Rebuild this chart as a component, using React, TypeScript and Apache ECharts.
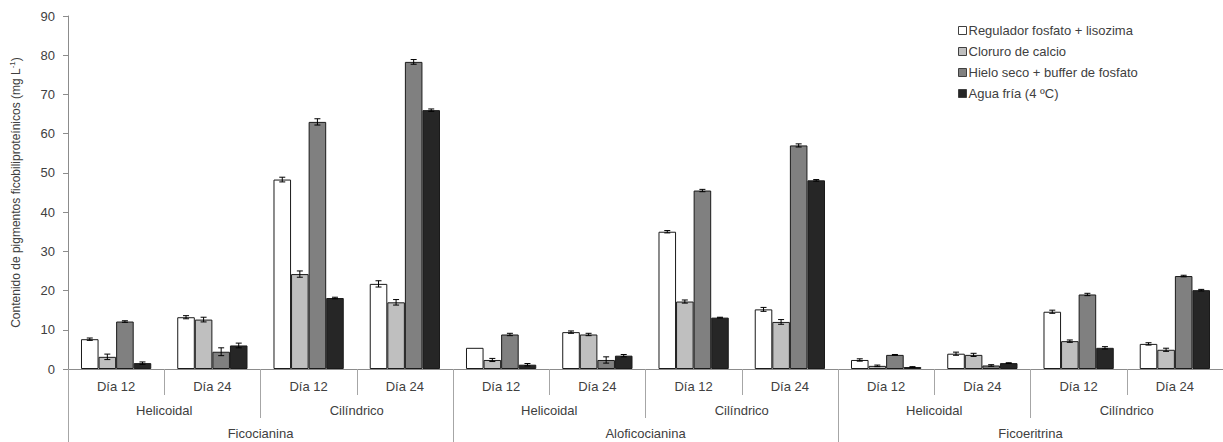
import React, { useEffect, useRef } from "react";
import * as echarts from "echarts";

const dayLabels = ["Día 12", "Día 24", "Día 12", "Día 24", "Día 12", "Día 24", "Día 12", "Día 24", "Día 12", "Día 24", "Día 12", "Día 24"];
const reactorLabels = ["Helicoidal", "Cilíndrico", "Helicoidal", "Cilíndrico", "Helicoidal", "Cilíndrico"];
const pigmentLabels = ["Ficocianina", "Aloficocianina", "Ficoeritrina"];
const seriesNames = ["Regulador fosfato + lisozima", "Cloruro de calcio", "Hielo seco + buffer de fosfato", "Agua fría (4 ºC)"];
const seriesColors = ["#ffffff", "#bfbfbf", "#808080", "#262626"];

const reguladorValues = [7.6, 13.2, 48.3, 21.7, 5.4, 9.4, 35.0, 15.2, 2.3, 3.9, 14.6, 6.4];
const cloruroValues = [3.1, 12.6, 24.2, 17.0, 2.3, 8.8, 17.2, 12.0, 0.8, 3.6, 7.1, 4.9];
const hieloValues = [12.1, 4.4, 63.0, 78.3, 8.8, 2.3, 45.5, 57.0, 3.6, 0.9, 19.0, 23.7];
const aguaValues = [1.5, 6.0, 18.1, 66.0, 1.1, 3.4, 13.1, 48.1, 0.5, 1.5, 5.4, 20.1];

const reguladorErr = [0.3, 0.4, 0.6, 0.8, 0, 0.3, 0.3, 0.5, 0.3, 0.4, 0.4, 0.3];
const cloruroErr = [0.7, 0.6, 0.8, 0.7, 0.4, 0.3, 0.4, 0.6, 0.2, 0.4, 0.3, 0.4];
const hieloErr = [0.2, 1.0, 0.8, 0.6, 0.3, 0.8, 0.3, 0.4, 0.1, 0.2, 0.3, 0.2];
const aguaErr = [0.3, 0.6, 0.2, 0.3, 0.3, 0.3, 0.1, 0.2, 0.1, 0.1, 0.3, 0.2];

const yTicks = { min: 0, max: 90, interval: 10 };

const allValues = [reguladorValues, cloruroValues, hieloValues, aguaValues];
const allErr = [reguladorErr, cloruroErr, hieloErr, aguaErr];

const CAT_GAP = 0.27;
const FONT = "'Liberation Sans', Arial, sans-serif";
const TEXT = "#404040";
const SEP = "#a6a6a6";

export default function App() {
  const ref = useRef<HTMLDivElement>(null);
  useEffect(() => {
    document.body.style.margin = "0";
    const chart = echarts.init(ref.current!, null, { renderer: "svg" });

    const errData: number[][] = [];
    allValues.forEach((vals, s) => {
      vals.forEach((v, c) => {
        errData.push([c, s, v, allErr[s][c]]);
      });
    });

    const option: any = {
      animation: false,
      textStyle: { fontFamily: FONT },
      grid: { left: 66.5, right: -14, top: 16, bottom: 73, containLabel: false },
      legend: {
        orient: "vertical",
        left: 953,
        top: 19,
        itemWidth: 8,
        itemHeight: 8,
        itemGap: 8,
        icon: "rect",
        data: seriesNames,
        itemStyle: { borderColor: "#404040", borderWidth: 1 },
        textStyle: { fontFamily: FONT, fontSize: 13, color: TEXT, padding: [0, 0, 0, -3] },
      },
      xAxis: [
        {
          type: "category",
          data: dayLabels,
          axisLine: { show: true, lineStyle: { color: "#8c8c8c", width: 1 } },
          axisTick: { show: true, interval: 0, length: 26, lineStyle: { color: SEP } },
          axisLabel: { interval: 0, margin: 11, fontSize: 13, color: TEXT, fontFamily: FONT },
          splitLine: { show: false },
        },
        {
          type: "category",
          data: reactorLabels,
          position: "bottom",
          axisLine: { show: false },
          axisTick: { show: true, interval: 0, length: 49, lineStyle: { color: SEP } },
          axisLabel: { interval: 0, margin: 35, fontSize: 13, color: TEXT, fontFamily: FONT },
          splitLine: { show: false },
        },
        {
          type: "category",
          data: pigmentLabels,
          position: "bottom",
          axisLine: { show: false },
          axisTick: { show: true, interval: 0, length: 73, lineStyle: { color: SEP } },
          axisLabel: { interval: 0, margin: 58, fontSize: 13, color: TEXT, fontFamily: FONT },
          splitLine: { show: false },
        },
      ],
      yAxis: {
        type: "value",
        min: yTicks.min,
        max: yTicks.max,
        interval: yTicks.interval,
        name: "{a|Contenido de pigmentos ficobiliproteínicos (mg L}{s|-1}{a|)}",
        nameLocation: "middle",
        nameGap: 45,
        nameRotate: 90,
        nameTextStyle: {
          rich: {
            a: { fontSize: 12, color: TEXT, fontFamily: FONT, lineHeight: 15 },
            s: { fontSize: 8, color: TEXT, fontFamily: FONT, verticalAlign: "top", lineHeight: 15 },
          },
        },
        axisLine: { show: true, lineStyle: { color: "#8c8c8c", width: 1 } },
        axisTick: { show: true, length: 5, lineStyle: { color: "#8c8c8c" } },
        axisLabel: { margin: 13, fontSize: 13, color: TEXT, fontFamily: FONT },
        splitLine: { show: false },
      },
      series: [
        ...seriesNames.map((name, i) => ({
          name,
          type: "bar",
          xAxisIndex: 0,
          data: allValues[i],
          barGap: "0%",
          barCategoryGap: "27%",
          itemStyle: { color: seriesColors[i], borderColor: "#1a1a1a", borderWidth: 1 },
          emphasis: { disabled: true },
        })),
        {
          type: "custom",
          xAxisIndex: 0,
          data: errData,
          encode: { x: 0, y: 2 },
          z: 10,
          silent: true,
          renderItem: (params: any, api: any) => {
            const cat = api.value(0);
            const s = api.value(1);
            const v = api.value(2);
            const e = api.value(3);
            if (!e) return null;
            const band = api.size([1, 0])[0];
            const groupW = band * (1 - CAT_GAP);
            const barW = groupW / 4;
            const cx = api.coord([cat, 0])[0] - groupW / 2 + barW * (s + 0.5);
            const yt = api.coord([cat, v + e])[1];
            const yb = api.coord([cat, Math.max(0, v - e)])[1];
            const hw = 3;
            const st = { stroke: "#000", lineWidth: 1 };
            return {
              type: "group",
              children: [
                { type: "line", shape: { x1: cx, y1: yt, x2: cx, y2: yb }, style: st },
                { type: "line", shape: { x1: cx - hw, y1: yt, x2: cx + hw, y2: yt }, style: st },
                { type: "line", shape: { x1: cx - hw, y1: yb, x2: cx + hw, y2: yb }, style: st },
              ],
            };
          },
        },
      ],
    };
    chart.setOption(option);
    return () => chart.dispose();
  }, []);
  return <div ref={ref} style={{ position: "absolute", left: 0, top: 0, width: 1223, height: 442 }} />;
}
